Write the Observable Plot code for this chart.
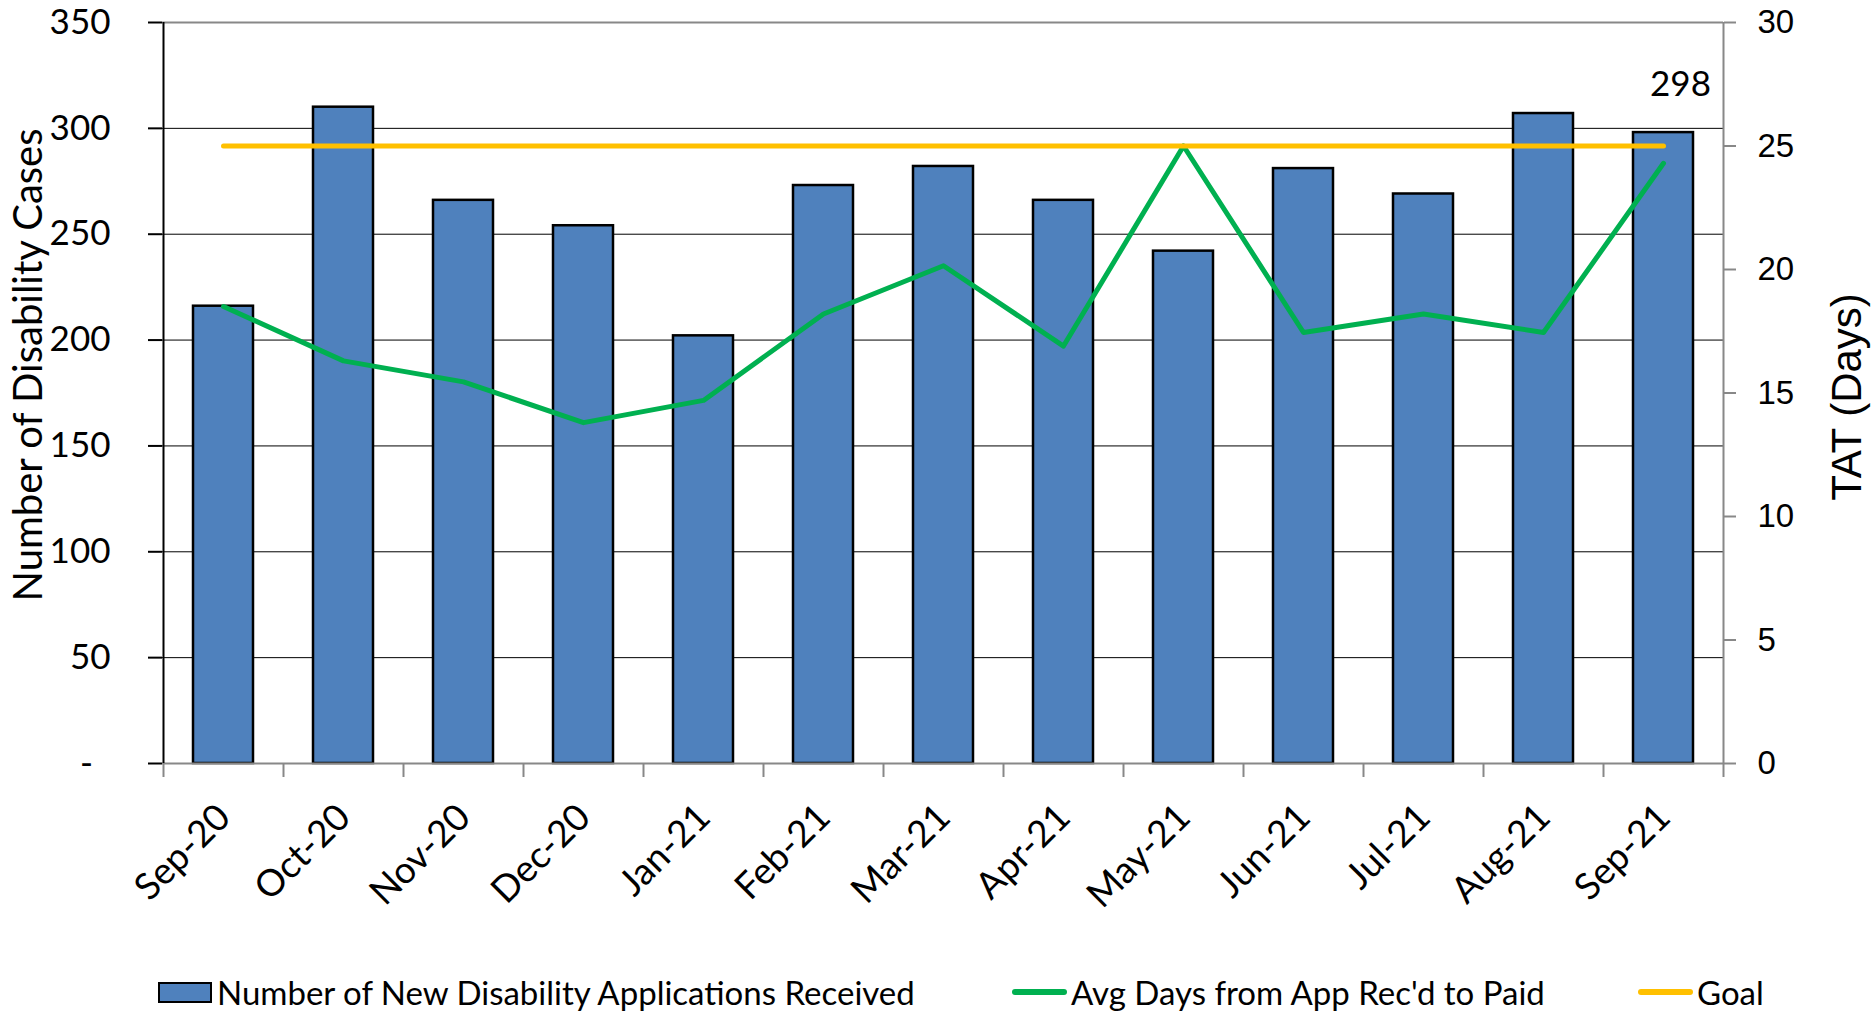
<!DOCTYPE html>
<html>
<head>
<meta charset="utf-8">
<script src="https://cdn.jsdelivr.net/npm/d3@7"></script>
<script src="https://cdn.jsdelivr.net/npm/@observablehq/plot@0.6"></script>
<style>
  html, body { margin: 0; padding: 0; background: #fff; }
  #wrap { position: relative; width: 1874px; height: 1012px; overflow: hidden; background: #fff; }
  .leg { position: absolute; top: 975px; height: 34px; display: flex; align-items: center;
         font-family: Lato, "Open Sans", sans-serif; font-size: 33px; color: #000; white-space: nowrap; }
  .sw { width: 50px; height: 17px; background: #4F81BD; border: 2px solid #000; margin-right: 5px; }
  .ln { width: 55px; height: 6px; border-radius: 3px; margin-right: 4px; }
</style>
</head>
<body>
<div id="wrap">
  <div id="chart"></div>
  <div class="leg" style="left:158px"><div class="sw"></div><span>Number of New Disability Applications Received</span></div>
  <div class="leg" style="left:1012px"><div class="ln" style="background:#00B050"></div><span>Avg Days from App Rec'd to Paid</span></div>
  <div class="leg" style="left:1638px"><div class="ln" style="background:#FFC000"></div><span>Goal</span></div>
</div>
<script>
const months = ["Sep-20","Oct-20","Nov-20","Dec-20","Jan-21","Feb-21","Mar-21","Apr-21","May-21","Jun-21","Jul-21","Aug-21","Sep-21"];
const cases = [216, 310, 266, 254, 202, 273, 282, 266, 242, 281, 269, 307, 298];
const avgDays = [18.5, 16.3, 15.45, 13.8, 14.7, 18.2, 20.15, 16.9, 25.0, 17.45, 18.2, 17.45, 24.3];
const goalDays = [25, 25, 25, 25, 25, 25, 25, 25, 25, 25, 25, 25, 25];
const caseTicks = [0, 50, 100, 150, 200, 250, 300, 350];
const dayTicks = [0, 5, 10, 15, 20, 25, 30];
const gridTicks = [50, 100, 150, 200, 250, 300];
const labelledMonth = "Sep-21";

const K = 350 / 30; // right-axis (days) to left-axis (cases) units
const data = months.map((m, i) => ({month: m, cases: cases[i], days: avgDays[i], goal: goalDays[i]}));
const first = months[0], last = months[months.length - 1];

const chart = Plot.plot({
  width: 1874,
  height: 960,
  marginTop: 22,
  marginBottom: 197,
  marginLeft: 162,
  marginRight: 151,
  style: {fontFamily: "Lato, 'Open Sans', sans-serif", background: "#fff", color: "#000", overflow: "visible"},
  x: {type: "band", domain: months, paddingInner: 0.5, paddingOuter: 0.25, axis: null},
  y: {domain: [0, 350], axis: null},
  marks: [
    Plot.ruleY(gridTicks, {stroke: "#000", strokeWidth: 1}),
    Plot.ruleY([350], {stroke: "#888", strokeWidth: 2}),
    Plot.barY(data, {x: "month", y: "cases", fill: "#4F81BD", stroke: "#000", strokeWidth: 2.5}),
    Plot.line(data, {x: "month", y: d => d.days * K, stroke: "#00B050", strokeWidth: 5}),
    Plot.line(data, {x: "month", y: d => d.goal * K, stroke: "#FFC000", strokeWidth: 5}),
    Plot.text(data.filter(d => d.month === labelledMonth), {x: "month", y: "cases", text: d => String(d.cases), dx: 17, dy: -37, lineAnchor: "bottom", fontSize: 35}),
    // axis lines
    Plot.ruleY([0], {stroke: "#888", strokeWidth: 2}),
    Plot.ruleX([first], {x: d => d, dx: -60, y1: 0, y2: 350, stroke: "#000", strokeWidth: 2}),
    Plot.ruleX([last], {x: d => d, dx: 60, y1: 0, y2: 350, stroke: "#888", strokeWidth: 2}),
    // x ticks at category boundaries
    Plot.ruleX(months, {x: d => d, dx: -60, y1: 0, y2: -6.6, stroke: "#888", strokeWidth: 2}),
    Plot.ruleX([last], {x: d => d, dx: 60, y1: 0, y2: -6.6, stroke: "#888", strokeWidth: 2}),
    // left axis
    Plot.axisY({anchor: "left", label: null, ticks: caseTicks, tickSize: 14, tickPadding: 38, fontSize: 35, stroke: "#000", strokeWidth: 2,
      tickFormat: d => d === 0 ? "-\u2002" : String(d)}),
    // right axis (days)
    Plot.axisY({anchor: "right", label: null, ticks: dayTicks.map(d => d * K), tickSize: 12, tickPadding: 22, fontSize: 33,
      fontFamily: "'Liberation Sans', Arial, sans-serif", stroke: "#888", strokeWidth: 2,
      tickFormat: d => String(Math.round(d / K))}),
    // x labels
    Plot.text(months, {x: d => d, frameAnchor: "bottom", text: d => d, rotate: -45, textAnchor: "end", lineAnchor: "bottom", dx: 9, dy: 56, fontSize: 37}),
    // axis titles
    Plot.text(["Number of Disability Cases"], {frameAnchor: "left", text: d => d, rotate: -90, textAnchor: "middle", lineAnchor: "middle", dx: -133, dy: -28, fontSize: 40}),
    Plot.text(["TAT (Days)"], {frameAnchor: "right", text: d => d, rotate: -90, textAnchor: "middle", lineAnchor: "middle", dx: 124, dy: 4, fontSize: 42, fontFamily: "'Liberation Sans', Arial, sans-serif"})
  ]
});
document.getElementById("chart").appendChild(chart);
</script>
</body>
</html>
